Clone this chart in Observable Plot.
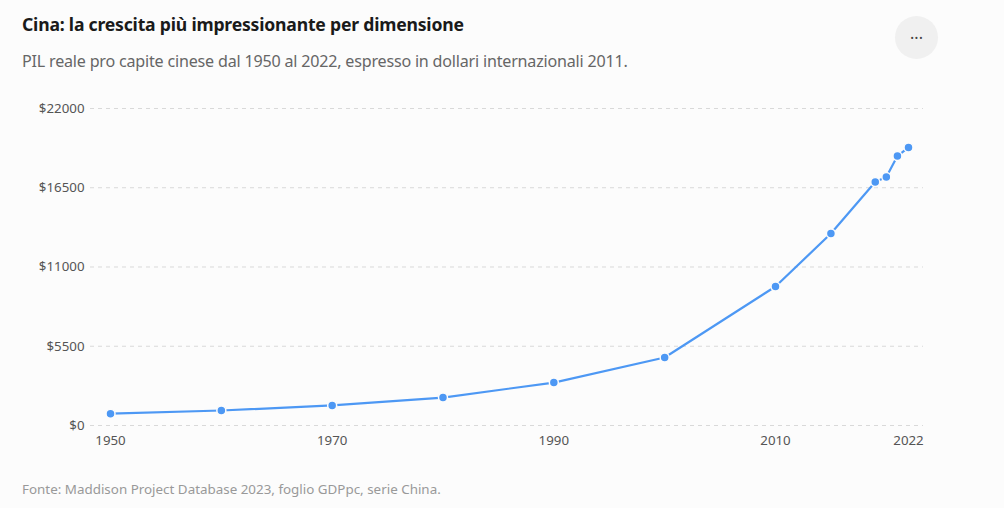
<!DOCTYPE html>
<html>
<head>
<meta charset="utf-8">
<script src="https://cdn.jsdelivr.net/npm/d3@7"></script>
<script src="https://cdn.jsdelivr.net/npm/@observablehq/plot@0.6"></script>
<style>
  html, body { margin: 0; padding: 0; background: #fcfcfc; }
  body { width: 1004px; height: 508px; position: relative; overflow: hidden; font-family: "Noto Sans", "Open Sans", sans-serif; }
  h1 { position: absolute; left: 22px; top: 12px; margin: 0; font-size: 17.6px; font-weight: 700; color: #1a1a1a; letter-spacing: -0.2px; }
  .sub { position: absolute; left: 22px; top: 50px; margin: 0; font-size: 16.1px; color: #666; letter-spacing: -0.2px; }
  .cap { position: absolute; left: 22px; top: 480px; margin: 0; font-size: 13.4px; color: #999; }
  .menu { position: absolute; left: 895px; top: 16px; width: 43px; height: 43px; border-radius: 50%; background: #f0f0f0; display: flex; align-items: center; justify-content: center; font-size: 16px; color: #444; }
  #chart { position: absolute; left: 0; top: 90px; }
</style>
</head>
<body>
<h1>Cina: la crescita più impressionante per dimensione</h1>
<p class="sub">PIL reale pro capite cinese dal 1950 al 2022, espresso in dollari internazionali 2011.</p>
<div class="menu">&middot;&middot;&middot;</div>
<div id="chart"></div>
<p class="cap">Fonte: Maddison Project Database 2023, foglio GDPpc, serie China.</p>
<script>
const years = [1950, 1960, 1970, 1980, 1990, 2000, 2010, 2015, 2019, 2020, 2021, 2022];
const gdp   = [820, 1040, 1390, 1940, 2980, 4720, 9650, 13320, 16900, 17250, 18700, 19300];
const yTicks = [0, 5500, 11000, 16500, 22000];
const xTicks = [1950, 1970, 1990, 2010, 2022];

const data = years.map((y, i) => ({year: y, value: gdp[i]}));
const blue = "#4d98f4";

const chart = Plot.plot({
  width: 1004,
  height: 370,
  marginTop: 18,
  marginBottom: 35,
  marginLeft: 90,
  marginRight: 81,
  style: {fontFamily: "'Noto Sans', 'Open Sans', sans-serif", fontSize: "13.3px", color: "#555", background: "transparent"},
  x: {domain: [1950, 2022], insetLeft: 20, insetRight: 15, ticks: xTicks, tickFormat: d => String(d), label: null},
  y: {domain: [0, 22000], ticks: yTicks, tickFormat: d => "$" + d, label: null},
  marks: [
    Plot.gridY(yTicks, {stroke: "#d9d9d9", strokeOpacity: 1, strokeDasharray: "4,4"}),
    Plot.axisY({ticks: yTicks, tickSize: 0, tickPadding: 6, tickFormat: d => "$" + d, label: null, fill: "#555"}),
    Plot.axisX({ticks: xTicks, tickSize: 0, tickPadding: 10, tickFormat: d => String(d), label: null, fill: "#555"}),
    Plot.line(data, {x: "year", y: "value", stroke: blue, strokeWidth: 2.2}),
    Plot.dot(data, {x: "year", y: "value", r: 4.5, fill: blue, stroke: "#fcfcfc", strokeWidth: 1.5})
  ]
});
document.getElementById("chart").appendChild(chart);
</script>
</body>
</html>
